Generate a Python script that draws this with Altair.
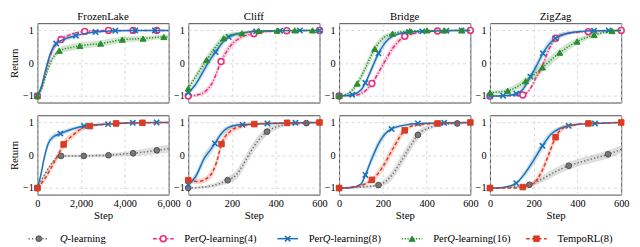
import altair as alt
import pandas as pd

PANELS = ["FrozenLake", "Cliff", "Bridge", "ZigZag"]
STEP_MAX = [6000, 600, 600, 600]
X_TICKS = [[0, 2000, 4000, 6000], [0, 200, 400, 600], [0, 200, 400, 600], [0, 200, 400, 600]]
Y_TICKS = [-1, 0, 1]

# ---------------- FrozenLake, top row ----------------
FL_P4_X = [0, 200, 400, 600, 860, 1080, 1500, 2166, 2700, 3250, 4376, 5458, 6000]
FL_P4_Y = [-1.0, -0.72, -0.22, 0.25, 0.58, 0.72, 0.87, 0.97, 0.99, 1.0, 1.0, 1.0, 1.0]
FL_P4_S = [0.02, 0.1, 0.12, 0.12, 0.1, 0.08, 0.05, 0.03, 0.02, 0.01, 0.01, 0.01, 0.01]
FL_P4_M = [0, 1080, 2166, 3250, 4376, 5458]

FL_P8_X = [0, 200, 400, 600, 860, 1300, 1760, 2200, 2660, 3560, 4470, 5370, 6000]
FL_P8_Y = [-1.0, -0.68, -0.15, 0.3, 0.6, 0.75, 0.84, 0.91, 0.95, 0.99, 1.0, 1.0, 1.0]
FL_P8_S = [0.02, 0.1, 0.12, 0.12, 0.1, 0.08, 0.06, 0.04, 0.03, 0.02, 0.01, 0.01, 0.01]
FL_P8_M = [0, 860, 1760, 2660, 3560, 4470, 5370]

FL_P16_X = [0, 200, 400, 600, 800, 1000, 1500, 1940, 2400, 2890, 3400, 3880, 4830, 5780, 6000]
FL_P16_Y = [-1.0, -0.78, -0.35, 0.02, 0.25, 0.38, 0.47, 0.53, 0.57, 0.6, 0.66, 0.72, 0.75, 0.8, 0.8]
FL_P16_S = [0.02, 0.08, 0.1, 0.1, 0.1, 0.1, 0.1, 0.1, 0.1, 0.1, 0.1, 0.09, 0.08, 0.07, 0.07]
FL_P16_M = [0, 1000, 1940, 2890, 3880, 4830, 5780]

# ---------------- FrozenLake, bottom row ----------------
FL_Q_X = [0, 300, 600, 850, 1080, 1600, 2120, 2700, 3250, 3800, 4376, 4900, 5458, 6000]
FL_Q_Y = [-1.0, -0.62, -0.3, -0.1, -0.02, -0.02, -0.02, -0.01, 0.0, 0.03, 0.06, 0.1, 0.15, 0.2]
FL_Q_S = [0.02, 0.05, 0.05, 0.05, 0.04, 0.04, 0.04, 0.05, 0.05, 0.06, 0.08, 0.1, 0.11, 0.12]
FL_Q_M = [0, 1080, 2120, 3250, 4376, 5458]

FL_B8_X = [0, 150, 300, 480, 700, 1050, 1600, 2130, 2700, 3230, 4360, 5450, 6000]
FL_B8_Y = [-1.0, -0.62, -0.12, 0.33, 0.55, 0.66, 0.8, 0.89, 0.93, 0.95, 0.99, 1.0, 1.0]
FL_B8_S = [0.02, 0.1, 0.12, 0.12, 0.1, 0.08, 0.06, 0.04, 0.03, 0.02, 0.01, 0.01, 0.01]
FL_B8_M = [0, 1050, 2130, 3230, 4360, 5450]

FL_T_X = [0, 300, 600, 900, 1200, 1600, 2000, 2400, 3000, 3600, 4800, 6000]
FL_T_Y = [-1.0, -0.75, -0.42, -0.05, 0.33, 0.6, 0.8, 0.89, 0.94, 0.97, 0.99, 1.0]
FL_T_S = [0.02, 0.1, 0.12, 0.12, 0.12, 0.1, 0.08, 0.05, 0.03, 0.02, 0.01, 0.01]
FL_T_M = [0, 1200, 2400, 3600, 4800]

# ---------------- Cliff, top row ----------------
CL_P4_X = [0, 40, 70, 110, 150, 190, 245, 300, 360, 450, 600]
CL_P4_Y = [-1.0, -0.97, -0.9, -0.6, 0.05, 0.5, 0.8, 0.9, 0.96, 0.99, 1.0]
CL_P4_S = [0.03, 0.05, 0.08, 0.12, 0.14, 0.12, 0.08, 0.05, 0.03, 0.01, 0.01]
CL_P4_M = [0, 150, 300, 450, 600]

CL_P8_X = [0, 30, 60, 90, 125, 160, 185, 240, 310, 420, 510, 600]
CL_P8_Y = [-0.9, -0.68, -0.35, 0.0, 0.34, 0.65, 0.8, 0.92, 0.97, 0.99, 1.0, 1.0]
CL_P8_S = [0.05, 0.1, 0.12, 0.14, 0.12, 0.1, 0.08, 0.05, 0.03, 0.02, 0.01, 0.01]
CL_P8_M = [0, 125, 185, 310, 420, 510, 600]

CL_P16_X = [0, 40, 84, 120, 162, 200, 245, 323, 406, 487, 568, 600]
CL_P16_Y = [-0.77, -0.35, 0.1, 0.45, 0.76, 0.86, 0.91, 0.98, 0.99, 1.0, 1.0, 1.0]
CL_P16_S = [0.08, 0.12, 0.13, 0.12, 0.1, 0.08, 0.05, 0.03, 0.02, 0.01, 0.01, 0.01]
CL_P16_M = [0, 84, 162, 245, 323, 406, 487, 568]

# ---------------- Cliff, bottom row ----------------
CL_Q_X = [0, 100, 180, 220, 250, 280, 320, 360, 420, 480, 540, 600]
CL_Q_Y = [-1.0, -0.94, -0.76, -0.6, -0.3, 0.05, 0.45, 0.72, 0.9, 0.95, 0.98, 1.0]
CL_Q_S = [0.02, 0.05, 0.1, 0.14, 0.16, 0.16, 0.15, 0.12, 0.07, 0.04, 0.02, 0.01]
CL_Q_M = [0, 180, 360, 540]

CL_B8_X = [0, 32, 77, 100, 122, 150, 182, 225, 248, 300, 362, 490, 600]
CL_B8_Y = [-0.9, -0.67, -0.05, 0.15, 0.36, 0.65, 0.84, 0.92, 0.93, 0.95, 0.97, 0.99, 1.0]
CL_B8_S = [0.05, 0.12, 0.14, 0.14, 0.12, 0.1, 0.07, 0.05, 0.04, 0.03, 0.02, 0.01, 0.01]
CL_B8_M = [0, 122, 248, 362, 490]

CL_T_X = [0, 45, 100, 130, 152, 190, 238, 302, 452, 600]
CL_T_Y = [-0.76, -0.8, -0.62, -0.2, 0.34, 0.72, 0.88, 0.95, 0.99, 1.0]
CL_T_S = [0.05, 0.08, 0.12, 0.15, 0.15, 0.12, 0.08, 0.04, 0.02, 0.01]
CL_T_M = [0, 152, 302, 452, 600]

# ---------------- Bridge, top row ----------------
BR_P4_X = [0, 60, 100, 150, 200, 250, 300, 350, 450, 600]
BR_P4_Y = [-1.0, -0.99, -0.93, -0.62, -0.05, 0.5, 0.82, 0.92, 0.98, 1.0]
BR_P4_S = [0.02, 0.02, 0.05, 0.1, 0.12, 0.12, 0.08, 0.05, 0.02, 0.01]
BR_P4_M = [0, 150, 300, 450, 600]

BR_P8_X = [0, 60, 100, 120, 150, 180, 210, 240, 320, 380, 490, 560, 600]
BR_P8_Y = [-1.0, -0.96, -0.82, -0.6, -0.15, 0.3, 0.62, 0.8, 0.95, 0.97, 0.99, 1.0, 1.0]
BR_P8_S = [0.02, 0.03, 0.08, 0.1, 0.12, 0.12, 0.1, 0.07, 0.03, 0.02, 0.01, 0.01, 0.01]
BR_P8_M = [0, 60, 120, 180, 320, 380, 490, 560]

BR_P16_X = [0, 40, 83, 120, 163, 200, 244, 323, 402, 480, 561, 600]
BR_P16_Y = [-1.0, -0.93, -0.62, -0.15, 0.44, 0.75, 0.9, 0.98, 1.0, 1.0, 1.0, 1.0]
BR_P16_S = [0.02, 0.05, 0.1, 0.14, 0.14, 0.1, 0.06, 0.03, 0.01, 0.01, 0.01, 0.01]
BR_P16_M = [0, 83, 163, 244, 323, 402, 480, 561]

# ---------------- Bridge, bottom row ----------------
BR_Q_X = [0, 100, 180, 240, 280, 320, 360, 420, 480, 540, 600]
BR_Q_Y = [-1.0, -0.97, -0.91, -0.62, -0.22, 0.22, 0.62, 0.86, 0.94, 0.97, 1.0]
BR_Q_S = [0.02, 0.03, 0.06, 0.14, 0.16, 0.16, 0.13, 0.07, 0.04, 0.02, 0.01]
BR_Q_M = [0, 180, 360, 540]

BR_B8_X = [0, 60, 100, 120, 150, 180, 210, 240, 300, 360, 480, 600]
BR_B8_Y = [-1.0, -0.98, -0.88, -0.6, -0.1, 0.35, 0.65, 0.8, 0.92, 0.97, 0.99, 1.0]
BR_B8_S = [0.02, 0.02, 0.06, 0.1, 0.14, 0.14, 0.1, 0.07, 0.04, 0.02, 0.01, 0.01]
BR_B8_M = [0, 120, 240, 360, 480]

BR_T_X = [0, 60, 110, 150, 200, 250, 300, 350, 450, 600]
BR_T_Y = [-1.0, -0.97, -0.9, -0.75, -0.35, 0.25, 0.76, 0.92, 0.97, 1.0]
BR_T_S = [0.02, 0.03, 0.05, 0.08, 0.14, 0.15, 0.1, 0.05, 0.02, 0.01]
BR_T_M = [0, 150, 300, 450, 600]

# ---------------- ZigZag, top row ----------------
ZZ_P4_X = [0, 100, 150, 180, 210, 237, 265, 300, 350, 450, 600]
ZZ_P4_Y = [-1.0, -0.99, -0.97, -0.82, -0.45, -0.12, 0.35, 0.76, 0.9, 0.96, 1.0]
ZZ_P4_S = [0.02, 0.02, 0.03, 0.06, 0.1, 0.12, 0.12, 0.08, 0.05, 0.02, 0.01]
ZZ_P4_M = [0, 150, 300, 450, 600]

ZZ_P8_X = [0, 60, 120, 150, 185, 215, 242, 270, 300, 360, 420, 476, 543, 600]
ZZ_P8_Y = [-1.0, -0.99, -0.93, -0.8, -0.41, -0.05, 0.3, 0.58, 0.76, 0.92, 0.97, 0.99, 1.0, 1.0]
ZZ_P8_S = [0.02, 0.02, 0.05, 0.08, 0.12, 0.14, 0.14, 0.12, 0.1, 0.06, 0.03, 0.02, 0.01, 0.01]
ZZ_P8_M = [0, 60, 120, 185, 242, 300, 476, 543]

ZZ_P16_X = [0, 81, 163, 240, 319, 398, 476, 558, 600]
ZZ_P16_Y = [-0.9, -0.84, -0.55, -0.13, 0.32, 0.66, 0.86, 0.98, 1.0]
ZZ_P16_S = [0.06, 0.08, 0.12, 0.14, 0.13, 0.1, 0.07, 0.04, 0.02]
ZZ_P16_M = [0, 81, 163, 240, 319, 398, 476, 558]

# ---------------- ZigZag, bottom row ----------------
ZZ_Q_X = [0, 100, 180, 240, 300, 360, 450, 540, 600]
ZZ_Q_Y = [-1.0, -0.97, -0.9, -0.72, -0.5, -0.32, -0.14, 0.03, 0.18]
ZZ_Q_S = [0.02, 0.03, 0.06, 0.1, 0.12, 0.12, 0.12, 0.12, 0.12]
ZZ_Q_M = [0, 180, 360, 540]

ZZ_B8_X = [0, 60, 120, 160, 200, 240, 280, 320, 360, 420, 480, 600]
ZZ_B8_Y = [-1.0, -0.98, -0.85, -0.55, -0.15, 0.29, 0.65, 0.82, 0.9, 0.95, 0.97, 1.0]
ZZ_B8_S = [0.02, 0.02, 0.05, 0.1, 0.14, 0.14, 0.1, 0.06, 0.04, 0.02, 0.02, 0.01]
ZZ_B8_M = [0, 120, 240, 360, 480]

ZZ_T_X = [0, 80, 150, 200, 240, 270, 300, 340, 400, 450, 600]
ZZ_T_Y = [-1.0, -1.0, -0.97, -0.85, -0.45, 0.05, 0.55, 0.85, 0.94, 0.97, 1.0]
ZZ_T_S = [0.01, 0.01, 0.02, 0.08, 0.14, 0.16, 0.14, 0.08, 0.04, 0.02, 0.01]
ZZ_T_M = [0, 150, 300, 450, 600]

TOP_ROW = [
    [("P4", FL_P4_X, FL_P4_Y, FL_P4_S, FL_P4_M), ("P8", FL_P8_X, FL_P8_Y, FL_P8_S, FL_P8_M), ("P16", FL_P16_X, FL_P16_Y, FL_P16_S, FL_P16_M)],
    [("P4", CL_P4_X, CL_P4_Y, CL_P4_S, CL_P4_M), ("P8", CL_P8_X, CL_P8_Y, CL_P8_S, CL_P8_M), ("P16", CL_P16_X, CL_P16_Y, CL_P16_S, CL_P16_M)],
    [("P4", BR_P4_X, BR_P4_Y, BR_P4_S, BR_P4_M), ("P8", BR_P8_X, BR_P8_Y, BR_P8_S, BR_P8_M), ("P16", BR_P16_X, BR_P16_Y, BR_P16_S, BR_P16_M)],
    [("P4", ZZ_P4_X, ZZ_P4_Y, ZZ_P4_S, ZZ_P4_M), ("P8", ZZ_P8_X, ZZ_P8_Y, ZZ_P8_S, ZZ_P8_M), ("P16", ZZ_P16_X, ZZ_P16_Y, ZZ_P16_S, ZZ_P16_M)],
]
BOTTOM_ROW = [
    [("Q", FL_Q_X, FL_Q_Y, FL_Q_S, FL_Q_M), ("P8", FL_B8_X, FL_B8_Y, FL_B8_S, FL_B8_M), ("T", FL_T_X, FL_T_Y, FL_T_S, FL_T_M)],
    [("Q", CL_Q_X, CL_Q_Y, CL_Q_S, CL_Q_M), ("P8", CL_B8_X, CL_B8_Y, CL_B8_S, CL_B8_M), ("T", CL_T_X, CL_T_Y, CL_T_S, CL_T_M)],
    [("Q", BR_Q_X, BR_Q_Y, BR_Q_S, BR_Q_M), ("P8", BR_B8_X, BR_B8_Y, BR_B8_S, BR_B8_M), ("T", BR_T_X, BR_T_Y, BR_T_S, BR_T_M)],
    [("Q", ZZ_Q_X, ZZ_Q_Y, ZZ_Q_S, ZZ_Q_M), ("P8", ZZ_B8_X, ZZ_B8_Y, ZZ_B8_S, ZZ_B8_M), ("T", ZZ_T_X, ZZ_T_Y, ZZ_T_S, ZZ_T_M)],
]

LEGEND_KEYS = ["Q", "P4", "P8", "P16", "T"]
LEGEND_TEXT = [("", "Q", "-learning"), ("Per", "Q", "-learning(4)"), ("Per", "Q", "-learning(8)"),
               ("Per", "Q", "-learning(16)"), ("TempoRL(8)", "", "")]

# ---------------- styles ----------------
XPATH = "M-1,-1L1,1M-1,1L1,-1"
STYLE = {
    "Q":   dict(color="#6a6a6a", dash=[1.3, 2.2], shape="circle", fill="#787878", stroke="#505050", size=34, sw=1.0),
    "P4":  dict(color="#e8317a", dash=[4, 1.8, 1.2, 1.8], shape="circle", fill="white", stroke="#e8317a", size=36, sw=1.6),
    "P8":  dict(color="#1a72b9", dash=None, shape=XPATH, fill="transparent", stroke="#1a72b9", size=30, sw=1.6),
    "P16": dict(color="#2b8c2b", dash=[1.3, 1.6], shape="triangle-up", fill="#2b8c2b", stroke="#2b8c2b", size=38, sw=1.0),
    "T":   dict(color="#dc3a22", dash=[3.6, 2.4], shape="square", fill="#dc3a22", stroke="#dc3a22", size=32, sw=1.0),
}

FONT = "Liberation Serif"
W, H = 134, 81
Y_DOMAIN = [-1.2, 1.22]


def panel(i, series, top):
    xsc = alt.Scale(domain=[0, STEP_MAX[i]], nice=False, zero=False)
    ysc = alt.Scale(domain=Y_DOMAIN, nice=False, zero=False)
    if top:
        xax = alt.Axis(values=X_TICKS[i], labels=False, ticks=False, domain=False, title=None)
    else:
        xax = alt.Axis(values=X_TICKS[i], format=",d", ticks=False, domain=False, title="Step",
                       labelPadding=4, titlePadding=1, labelFlush=False)
    yax = alt.Axis(values=Y_TICKS, ticks=False, domain=False, title="Return" if i == 0 else None,
                   labelPadding=4, titlePadding=3)
    X = alt.X("x:Q", scale=xsc, axis=xax)
    Y = alt.Y("y:Q", scale=ysc, axis=yax)
    bands, lines = [], []
    for key, xs, ys, ss, ms in series:
        st = STYLE[key]
        df = pd.DataFrame({"x": xs, "y": ys,
                           "lo": [a - b for a, b in zip(ys, ss)],
                           "hi": [a + b for a, b in zip(ys, ss)]})
        mdf = df[df["x"].isin(ms)]
        bands.append(alt.Chart(df).mark_area(color=st["color"], opacity=0.22, interpolate="monotone")
                     .encode(x=X, y=alt.Y("lo:Q", scale=ysc, axis=yax), y2="hi:Q"))
        lk = dict(color=st["color"], strokeWidth=1.5, interpolate="monotone")
        if st["dash"]:
            lk["strokeDash"] = st["dash"]
        lines.append(alt.Chart(df).mark_line(**lk).encode(x=X, y=Y))
        lines.append(alt.Chart(mdf).mark_point(shape=st["shape"], filled=False, fill=st["fill"],
                                               stroke=st["stroke"], strokeWidth=st["sw"],
                                               size=st["size"], opacity=1)
                     .encode(x=X, y=Y))
    ch = alt.layer(*bands, *lines).properties(width=W, height=H)
    if top:
        ch = ch.properties(title=alt.TitleParams(PANELS[i], fontSize=11, font=FONT,
                                                 fontWeight=400, color="#000", offset=1))
    return ch


top = alt.hconcat(*[panel(i, TOP_ROW[i], True) for i in range(4)], spacing=20, bounds="flush")
bottom = alt.hconcat(*[panel(i, BOTTOM_ROW[i], False) for i in range(4)], spacing=20, bounds="flush")

# ---------------- legend ----------------
LEG_X0 = -9      # first symbol start, relative to the first panel's left edge
LEG_DX = 127     # spacing between legend entries
SYM_LEN = 21
TXT_OFF = 32
FS = 10.8
dummy = pd.DataFrame({"k": [0]})
leg_layers = []
for i, key in enumerate(LEGEND_KEYS):
    st = STYLE[key]
    x0 = LEG_X0 + i * LEG_DX
    rk = dict(color=st["color"], strokeWidth=1.5)
    if st["dash"]:
        rk["strokeDash"] = st["dash"]
    leg_layers.append(alt.Chart(dummy).mark_rule(**rk).encode(
        x=alt.value(x0), x2=alt.value(x0 + SYM_LEN), y=alt.value(5)))
    leg_layers.append(alt.Chart(dummy).mark_point(shape=st["shape"], filled=False, fill=st["fill"],
                                                  stroke=st["stroke"], strokeWidth=st["sw"],
                                                  size=st["size"], opacity=1).encode(
        x=alt.value(x0 + SYM_LEN / 2), y=alt.value(5)))
    pre, q, post = LEGEND_TEXT[i]
    ts = x0 + TXT_OFF
    tk = dict(font=FONT, fontSize=FS, align="left", baseline="middle", color="#000")
    if pre:
        leg_layers.append(alt.Chart(dummy).mark_text(text=pre, **tk).encode(x=alt.value(ts), y=alt.value(5)))
    if q:
        qx = ts + (1.333 * FS if pre else 0)
        leg_layers.append(alt.Chart(dummy).mark_text(text=q, fontStyle="italic", **tk).encode(
            x=alt.value(qx), y=alt.value(5)))
        leg_layers.append(alt.Chart(dummy).mark_text(text=post, **tk).encode(
            x=alt.value(qx + 0.722 * FS), y=alt.value(5)))

legend = alt.layer(*leg_layers).properties(width=4 * W + 60, height=10,
                                           view=alt.ViewBackground(stroke="transparent"))

chart = alt.vconcat(top, bottom, legend, spacing=11).properties(
    padding={"left": 0, "top": 0, "right": 2, "bottom": 0}
).configure(font=FONT).configure_view(stroke="#4a4a4a", strokeWidth=1).configure_axis(
    labelFont=FONT, labelFontSize=10.5, labelColor="#000", titleFont=FONT, titleFontSize=11,
    titleFontWeight=400, titleColor="#000", grid=True, gridColor="#cfcfcf",
    gridDash=[3, 3], gridWidth=0.8
).configure_title(fontWeight=400, font=FONT)

chart.save("out.html", embed_options={"renderer": "svg", "actions": False})
